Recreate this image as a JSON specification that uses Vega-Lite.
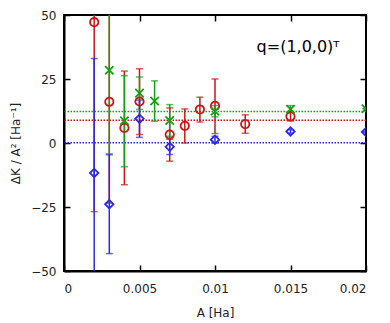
{
  "$schema": "https://vega.github.io/schema/vega-lite/v6.json",
  "width": 302,
  "height": 256,
  "autosize": "none",
  "padding": {"left": 64, "top": 15, "right": 24, "bottom": 52},
  "background": "white",
  "config": {
    "font": "DejaVu Sans",
    "view": {"stroke": "#000", "strokeWidth": 2},
    "axis": {"grid": false, "domainColor": "#000", "domainWidth": 2, "tickColor": "#000", "tickWidth": 1.5, "tickSize": -6, "labelFont": "DejaVu Sans", "labelFontSize": 12, "labelColor": "#222", "titleFont": "DejaVu Sans", "titleFontSize": 12, "titleFontWeight": "normal", "titleColor": "#222"}
  },
  "datasets": {
    "pts": [
      {"s": "red", "A": 0.002, "v": 47.2, "lo": -26.8, "hi": 121},
      {"s": "red", "A": 0.003, "v": 16.1, "lo": -23.5, "hi": 55.7},
      {"s": "red", "A": 0.004, "v": 5.9, "lo": -16.3, "hi": 28.1},
      {"s": "red", "A": 0.005, "v": 16.2, "lo": 3.3, "hi": 29},
      {"s": "red", "A": 0.007, "v": 3.3, "lo": -7.1, "hi": 13.7},
      {"s": "red", "A": 0.008, "v": 6.7, "lo": 0, "hi": 13.3},
      {"s": "red", "A": 0.009, "v": 13.1, "lo": 8.2, "hi": 17.9},
      {"s": "red", "A": 0.010, "v": 14.5, "lo": 3.7, "hi": 25},
      {"s": "red", "A": 0.012, "v": 7.4, "lo": 3.8, "hi": 11},
      {"s": "red", "A": 0.015, "v": 10.4, "lo": 8.6, "hi": 12.2},
      {"s": "green", "A": 0.003, "v": 28.4, "lo": -4.2, "hi": 61},
      {"s": "green", "A": 0.004, "v": 8.7, "lo": -9.3, "hi": 26.3},
      {"s": "green", "A": 0.005, "v": 19.5, "lo": 13.1, "hi": 25.8},
      {"s": "green", "A": 0.006, "v": 16.4, "lo": 8.5, "hi": 24.3},
      {"s": "green", "A": 0.007, "v": 8.8, "lo": 2.6, "hi": 15},
      {"s": "green", "A": 0.010, "v": 12.4, "lo": 10.2, "hi": 14.6},
      {"s": "green", "A": 0.015, "v": 13.2, "lo": 11.8, "hi": 14.6},
      {"s": "green", "A": 0.020, "v": 13.4, "lo": 13.4, "hi": 13.4},
      {"s": "blue", "A": 0.002, "v": -11.7, "lo": -56.4, "hi": 33},
      {"s": "blue", "A": 0.003, "v": -23.9, "lo": -43.2, "hi": -4.6},
      {"s": "blue", "A": 0.005, "v": 9.5, "lo": 2.2, "hi": 16.8},
      {"s": "blue", "A": 0.007, "v": -1.5, "lo": -4.5, "hi": 1.5},
      {"s": "blue", "A": 0.010, "v": 1.3, "lo": 0, "hi": 2.6},
      {"s": "blue", "A": 0.015, "v": 4.5, "lo": 3.8, "hi": 5.2},
      {"s": "blue", "A": 0.020, "v": 4.3, "lo": 4.3, "hi": 4.3}
    ],
    "lines": [
      {"s": "red", "v": 8.9},
      {"s": "green", "v": 12.3},
      {"s": "blue", "v": 0.1}
    ],
    "label": [
      {"A": 0.0155, "v": 37.5, "t": "q=(1,0,0)ᵀ"}
    ]
  },
  "resolve": {"axis": {"x": "independent", "y": "independent"}, "scale": {"x": "shared", "y": "shared"}},
  "layer": [
    {
      "data": {"name": "lines"},
      "mark": {"type": "rule", "strokeDash": [1.5, 1.5], "strokeWidth": 1.5},
      "encoding": {
        "y": {"field": "v", "type": "quantitative", "scale": {"domain": [-50, 50]}, "axis": {"values": [-50, -25, 0, 25, 50], "title": "ΔK / A² [Ha⁻¹]", "titlePadding": 8, "labelPadding": 14}},
        "color": {"field": "s", "type": "nominal", "scale": {"domain": ["red", "green", "blue"], "range": ["#d01414", "#14a014", "#2a2ae6"]}, "legend": null}
      }
    },
    {
      "data": {"name": "pts"},
      "mark": {"type": "rule", "strokeWidth": 1.5, "clip": true},
      "encoding": {
        "x": {"field": "A", "type": "quantitative", "scale": {"domain": [0, 0.02]}, "axis": {"values": [0, 0.005, 0.01, 0.015, 0.02], "title": "A [Ha]", "labelPadding": 18, "titlePadding": 13, "format": "~g"}},
        "y": {"field": "lo", "type": "quantitative", "axis": null},
        "y2": {"field": "hi"},
        "color": {"field": "s", "type": "nominal", "legend": null}
      }
    },
    {
      "data": {"name": "pts"},
      "mark": {"type": "tick", "orient": "horizontal", "size": 7, "thickness": 1.5, "clip": true},
      "encoding": {
        "x": {"field": "A", "type": "quantitative", "axis": null},
        "y": {"field": "lo", "type": "quantitative", "axis": null},
        "color": {"field": "s", "type": "nominal", "legend": null}
      }
    },
    {
      "data": {"name": "pts"},
      "mark": {"type": "tick", "orient": "horizontal", "size": 7, "thickness": 1.5, "clip": true},
      "encoding": {
        "x": {"field": "A", "type": "quantitative", "axis": null},
        "y": {"field": "hi", "type": "quantitative", "axis": null},
        "color": {"field": "s", "type": "nominal", "legend": null}
      }
    },
    {
      "data": {"name": "pts"},
      "mark": {"type": "point", "filled": false, "strokeWidth": 1.8, "size": 70, "clip": true, "opacity": 1},
      "encoding": {
        "x": {"field": "A", "type": "quantitative", "axis": null},
        "y": {"field": "v", "type": "quantitative", "axis": null},
        "color": {"field": "s", "type": "nominal", "legend": null},
        "shape": {"field": "s", "type": "nominal", "scale": {"domain": ["red", "green", "blue"], "range": ["circle", "M-1,-1L1,1M-1,1L1,-1", "diamond"]}, "legend": null}
      }
    },
    {
      "data": {"name": "label"},
      "mark": {"type": "text", "fontSize": 16, "font": "DejaVu Sans", "color": "#000"},
      "encoding": {
        "x": {"field": "A", "type": "quantitative", "axis": {"orient": "top", "values": [0, 0.005, 0.01, 0.015, 0.02], "labels": false, "title": null, "domain": false}},
        "y": {"field": "v", "type": "quantitative", "axis": {"orient": "right", "values": [-50, -25, 0, 25, 50], "labels": false, "title": null, "domain": false}},
        "text": {"field": "t"}
      }
    }
  ]
}
